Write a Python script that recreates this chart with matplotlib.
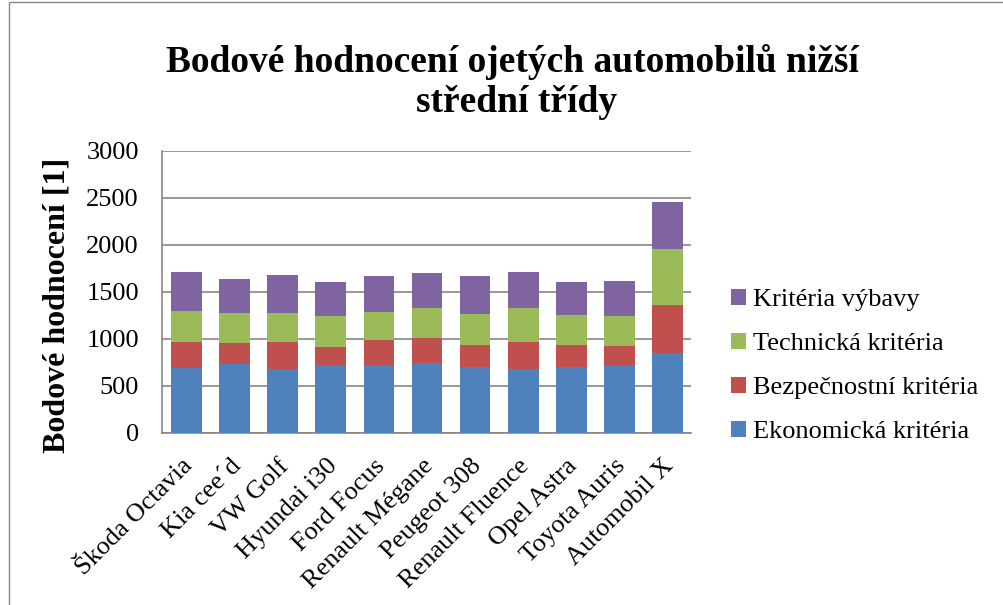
import numpy as np
import matplotlib.pyplot as plt
import matplotlib.transforms as mtransforms
from matplotlib.patches import Rectangle

# Bodové hodnocení
vozy = ['Škoda Octavia', 'Kia cee´d', 'VW Golf', 'Hyundai i30', 'Ford Focus',
        'Renault Mégane', 'Peugeot 308', 'Renault Fluence', 'Opel Astra',
        'Toyota Auris', 'Automobil X']
ekonomicka = [684, 730, 674, 716, 723, 738, 695, 681, 702, 706, 844]
bezpecnostni = [277, 227, 287, 199, 263, 269, 238, 284, 234, 216, 518]
technicka = [333, 320, 312, 326, 301, 319, 333, 361, 312, 319, 588]
vybava = [419, 354, 408, 358, 376, 373, 397, 380, 355, 372, 500]

serie = [
    ('Ekonomická kritéria', ekonomicka, '#4f81bd'),
    ('Bezpečnostní kritéria', bezpecnostni, '#c0504d'),
    ('Technická kritéria', technicka, '#9bbb59'),
    ('Kritéria výbavy', vybava, '#8064a2'),
]

plt.rcParams['font.family'] = ['Liberation Serif', 'DejaVu Serif']

W, H = 1004, 605
fig = plt.figure(figsize=(W / 100, H / 100), dpi=100)

# okraj oblasti grafu
fig.patches.append(Rectangle((9 / W, -0.1), 1.2, 1 - 2 / H + 0.1,
                             transform=fig.transFigure, fill=False,
                             edgecolor='#868686', linewidth=1))

ax = fig.add_axes([162.5 / W, 1 - 432.7 / H, (691.5 - 162.5) / W, (432.7 - 150.7) / H])

x = np.arange(len(vozy))
dole = np.zeros(len(vozy))
for nazev, hodnoty, barva in serie:
    ax.bar(x, hodnoty, 0.64, bottom=dole, color=barva, label=nazev, zorder=3)
    dole += np.array(hodnoty)

ax.set_xlim(-0.5, len(vozy) - 0.5)
ax.set_ylim(0, 3000)
ax.set_yticks(range(0, 3001, 500))
ax.yaxis.grid(True, color='#868686', linewidth=1.2, zorder=0)
ax.set_axisbelow(True)
for s in ['top', 'right']:
    ax.spines[s].set_visible(False)
for s in ['left', 'bottom']:
    ax.spines[s].set_color('#868686')
    ax.spines[s].set_linewidth(1.2)
ax.tick_params(axis='y', labelsize=19, length=0, pad=17)
ax.tick_params(axis='x', length=0, labelsize=19, pad=16)
ax.set_xticks(x)
ax.set_xticklabels(vozy, rotation=45, ha='right', rotation_mode='anchor')
posun = mtransforms.ScaledTranslation(-5 / 100, 0, fig.dpi_scale_trans)
for t in ax.get_xticklabels():
    t.set_transform(t.get_transform() + posun)

fig.text(57 / W, 1 - 305 / H, 'Bodové hodnocení [1]', rotation=90,
         ha='center', va='center', fontsize=23, fontweight='bold')

fig.text(512 / W, 1 - 72 / H, 'Bodové hodnocení ojetých automobilů nižší',
         ha='center', va='baseline', fontsize=27, fontweight='bold')
fig.text(517 / W, 1 - 112 / H, 'střední třídy',
         ha='center', va='baseline', fontsize=27, fontweight='bold')

h, l = ax.get_legend_handles_labels()
fig.legend(h[::-1], l[::-1], loc='center left', bbox_to_anchor=(731 / W, 1 - 366 / H),
           frameon=False, fontsize=19, handlelength=0.55, handleheight=0.55,
           handletextpad=0.3, labelspacing=0.82, borderpad=0, borderaxespad=0)

fig.savefig('out.png', dpi=100)
